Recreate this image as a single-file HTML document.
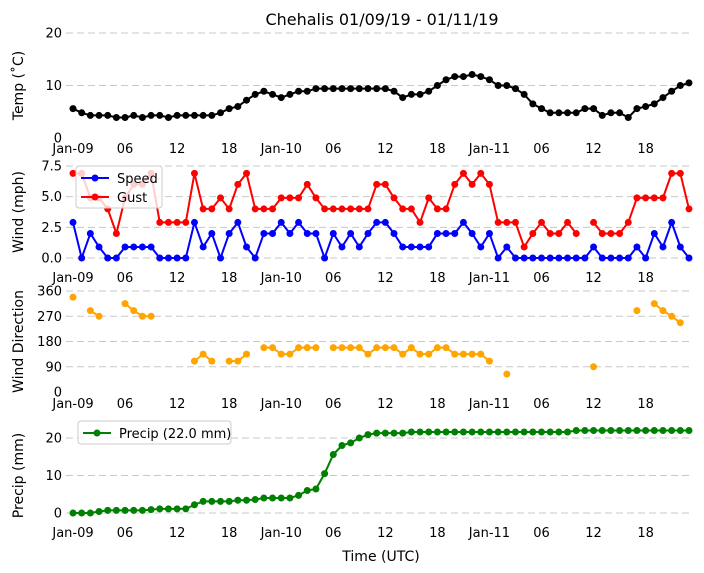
<!DOCTYPE html>
<html><head><meta charset="utf-8"><style>
body{margin:0;background:#fff;}
svg{display:block;font-family:"DejaVu Sans","Liberation Sans",sans-serif;}
</style></head><body>
<svg id="c" width="704" height="573"></svg>
<script>
const hours=[];for(let i=0;i<72;i++)hours.push(i);
const tickLabels=["Jan-09","06","12","18","Jan-10","06","12","18","Jan-11","06","12","18"];
const tempC=[5.6,4.8,4.3,4.3,4.3,3.9,3.9,4.3,3.9,4.3,4.3,3.9,4.3,4.3,4.3,4.3,4.3,4.8,5.6,6.0,7.2,8.3,8.9,8.3,7.7,8.3,8.9,8.9,9.4,9.4,9.4,9.4,9.4,9.4,9.4,9.4,9.4,8.9,7.7,8.3,8.3,8.9,10,11.1,11.7,11.7,12.1,11.7,11.1,10,10,9.4,8.3,6.5,5.6,4.8,4.8,4.8,4.8,5.6,5.6,4.3,4.8,4.8,3.9,5.6,6.0,6.5,7.7,8.9,10,10.5];
const speed=[2.9,0,2,0.9,0,0,0.9,0.9,0.9,0.9,0,0,0,0,2.9,0.9,2,0,2,2.9,0.9,0,2,2,2.9,2,2.9,2,2,0,2,0.9,2,0.9,2,2.9,2.9,2,0.9,0.9,0.9,0.9,2,2,2,2.9,2,0.9,2,0,0.9,0,0,0,0,0,0,0,0,0,0.9,0,0,0,0,0.9,0,2,0.9,2.9,0.9,0];
const gust=[6.9,6.9,4.9,4.9,4,2,4.9,6,6,6.9,2.9,2.9,2.9,2.9,6.9,4,4,4.9,4,6,6.9,4,4,4,4.9,4.9,4.9,6,4.9,4,4,4,4,4,4,6,6,4.9,4,4,2.9,4.9,4,4,6,6.9,6,6.9,6,2.9,2.9,2.9,0.9,2,2.9,2,2,2.9,2,null,2.9,2,2,2,2.9,4.9,4.9,4.9,4.9,6.9,6.9,4];
const dir=[338,null,290,270,null,null,315,290,270,270,null,null,null,null,110,135,110,null,110,110,135,null,158,158,135,135,158,158,158,null,158,158,158,158,135,158,158,158,135,158,135,135,158,158,135,135,135,135,110,null,64,null,null,null,null,null,null,null,null,null,90,null,null,null,null,290,null,315,290,270,247,null];
const precip=[0,0,0,0.4,0.7,0.7,0.7,0.7,0.7,0.9,1.1,1.1,1.1,1.1,2.2,3.1,3.1,3.1,3.1,3.4,3.4,3.6,4.0,4.0,4.0,4.0,4.7,6.0,6.4,10.5,15.6,18.0,18.7,20.0,20.9,21.3,21.3,21.3,21.3,21.6,21.6,21.6,21.6,21.6,21.6,21.6,21.6,21.6,21.6,21.6,21.6,21.6,21.6,21.6,21.6,21.6,21.6,21.6,22.0,22.0,22.0,22.0,22.0,22.0,22.0,22.0,22.0,22.0,22.0,22.0,22.0,22.0];

const svg=document.getElementById('c');const NS='http://www.w3.org/2000/svg';
function el(t,a,p){const e=document.createElementNS(NS,t);for(const k in a)e.setAttribute(k,a[k]);(p||svg).appendChild(e);return e;}
function txt(s,a,p){const e=el('text',a,p);e.textContent=s;return e;}
const X=h=>73+h*8.676;
const panels=[
 {name:'temp',y0:138,y1:33,v0:0,v1:20,ticks:[0,10,20],fmt:v=>String(v),grid:[10,20],title:'Temp ($^\\circ$C)',tlab:'Temp (˚C)',xl:153},
 {name:'wind',y0:258,y1:166,v0:0,v1:7.5,ticks:[0,2.5,5,7.5],fmt:v=>v.toFixed(1),grid:[0,2.5,5,7.5],tlab:'Wind (mph)',xl:282},
 {name:'dir',y0:392,y1:291,v0:0,v1:360,ticks:[0,90,180,270,360],fmt:v=>String(v),grid:[90,180,270,360],tlab:'Wind Direction',xl:408},
 {name:'precip',y0:513,y1:438,v0:0,v1:20,ticks:[0,10,20],fmt:v=>String(v),grid:[0,10,20],tlab:'Precip (mm)',xl:537}
];
panels.forEach(p=>{
 p.Y=v=>p.y0+(v-p.v0)*(p.y1-p.y0)/(p.v1-p.v0);
 const g=el('g',{});
 p.grid.forEach(v=>{const l=el('line',{x1:66,x2:692,y1:p.Y(v),y2:p.Y(v),stroke:'#c8c8c8','stroke-dasharray':'7,4','stroke-width':1},g);});
 p.ticks.forEach(v=>{const t=txt(p.fmt(v),{x:62,y:p.Y(v)+4.5,'text-anchor':'end','font-size':13,fill:'#000'},g);});
 tickLabels.forEach((s,i)=>{const t=txt(s,{x:X(i*6),y:p.xl,'text-anchor':'middle','font-size':13},g);});
 const cy=(p.y0+p.y1)/2;
 const yt=txt(p.tlab,{x:0,y:0,transform:`translate(23,${cy}) rotate(-90)`,'text-anchor':'middle','font-size':14},g);
 
 p.g=g;
});
function series(p,vals,color,name){
 const g=el('g',{},p.g);
 let seg=[];const segs=[];
 vals.forEach((v,i)=>{if(v===null){if(seg.length)segs.push(seg);seg=[];}else seg.push([X(hours[i]),p.Y(v)]);});
 if(seg.length)segs.push(seg);
 segs.forEach(s=>{if(s.length>1){const l=el('polyline',{points:s.map(q=>q.join(',')).join(' '),fill:'none',stroke:color,'stroke-width':2},g);}});
 vals.forEach((v,i)=>{if(v===null)return;const c=el('circle',{cx:X(hours[i]),cy:p.Y(v),r:3.5,fill:color},g);});
}
series(panels[0],tempC,'#000','temp');
series(panels[1],speed,'#0000ff','speed');
series(panels[1],gust,'#ff0000','gust');
series(panels[2],dir,'#ffa500','direction');
series(panels[3],precip,'#008000','precip');
// legends
function legend(x,y,w,h,items,name){
 const g=el('g',{});
 el('rect',{x:x,y:y,width:w,height:h,fill:'#fff','fill-opacity':0.8,stroke:'#ccc',rx:3},g);
 items.forEach((it,i)=>{const yy=y+12+i*19;
  el('line',{x1:x+5,x2:x+33,y1:yy,y2:yy,stroke:it[1],'stroke-width':2},g);
  el('circle',{cx:x+19,cy:yy,r:3.5,fill:it[1]},g);
  const t=txt(it[0],{x:x+41,y:yy+5,'font-size':13},g);});
}
legend(76,166,86,42,[['Speed','#0000ff'],['Gust','#ff0000']],'wind-legend');
legend(78,421,153,23,[['Precip (22.0 mm)','#008000']],'precip-legend');
const tt=txt('Chehalis 01/09/19 - 01/11/19',{x:382,y:25,'text-anchor':'middle','font-size':16});

const xt=txt('Time (UTC)',{x:381,y:561,'text-anchor':'middle','font-size':14});

</script>
</body></html>
